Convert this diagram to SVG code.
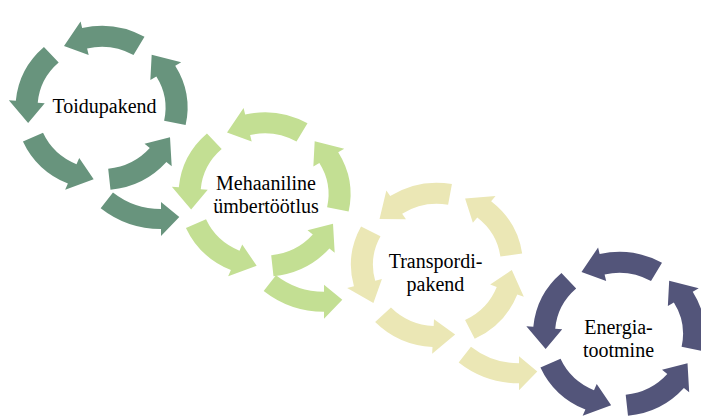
<svg xmlns="http://www.w3.org/2000/svg" xmlns:xlink="http://www.w3.org/1999/xlink" width="701" height="417" viewBox="0 0 701 417">
  <style>
    .lbl { font-family: "Liberation Serif", "Times New Roman", serif; font-size: 20px; fill: #000; text-anchor: middle; }
    .c1 { fill: #68947d; }
    .c2 { fill: #c3df93; }
    .c3 { fill: #ebe7b5; }
    .c4 { fill: #53557a; }
  </style>
  <defs>
    <!-- one curved arrow of a cycle, centred on the top (-90deg), pointing anticlockwise -->
    <path id="seg" d="M 43 -74.48 A 86 86 0 0 0 -19.35 -83.8 L -20.92 -90.62 L -37.5 -64.95 L -12.82 -55.54 L -14.4 -62.36 A 64 64 0 0 1 32 -55.43 Z"/>
    <!-- five arrows make a full cycle -->
    <g id="cycle">
      <use xlink:href="#seg" href="#seg"/>
      <use xlink:href="#seg" href="#seg" transform="rotate(-72)"/>
      <use xlink:href="#seg" href="#seg" transform="rotate(-144)"/>
      <use xlink:href="#seg" href="#seg" transform="rotate(-216)"/>
      <use xlink:href="#seg" href="#seg" transform="rotate(-288)"/>
    </g>
    <!-- bent arrow leading from the bottom of one cycle to the next -->
    <path id="link" d="M -60.33 77.22 A 98 98 0 0 0 0 98 L 0 105 L 18.3 86.08 L 0 71 L 0 78 A 78 78 0 0 1 -48.02 61.46 Z"/>
  </defs>

  <g id="node-toidupakend">
    <use xlink:href="#cycle" href="#cycle" class="c1" transform="translate(101.5 108) scale(1 0.955)"/>
    <text class="lbl" x="104.5" y="113.3">Toidupakend</text>
  </g>

  <g id="node-mehaaniline">
    <use xlink:href="#cycle" href="#cycle" class="c2" transform="translate(264.5 194.5) scale(1 0.955)"/>
    <text class="lbl" x="266" y="190">Mehaaniline</text>
    <text class="lbl" x="266" y="213">ümbertöötlus</text>
  </g>

  <g id="node-transpordipakend">
    <use xlink:href="#cycle" href="#cycle" class="c3" transform="translate(437 265) scale(1 0.955) rotate(-20)"/>
    <text class="lbl" x="435.5" y="268">Transpordi-</text>
    <text class="lbl" x="435.5" y="291">pakend</text>
  </g>

  <g id="node-energiatootmine">
    <use xlink:href="#cycle" href="#cycle" class="c4" transform="translate(619 334) scale(1 0.955)"/>
    <text class="lbl" x="618.5" y="334">Energia-</text>
    <text class="lbl" x="618.5" y="356.5">tootmine</text>
  </g>

  <g id="connectors">
    <use xlink:href="#link" href="#link" class="c1" transform="translate(161 131)"/>
    <use xlink:href="#link" href="#link" class="c2" transform="translate(324 213.7)"/>
    <use xlink:href="#link" href="#link" class="c3" transform="translate(519 285.3)"/>
  </g>
</svg>
